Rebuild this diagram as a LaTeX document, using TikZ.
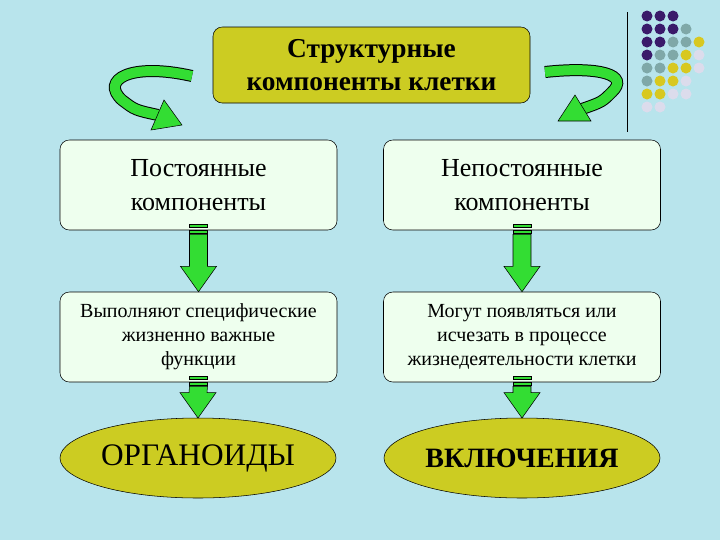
\documentclass[tikz,border=0pt]{standalone}
\usepackage{fontspec}
\setmainfont{Liberation Serif}
\usetikzlibrary{shapes.geometric}
\definecolor{bg}{HTML}{B8E4EC}
\definecolor{oliv}{HTML}{CCCC22}
\definecolor{pale}{HTML}{EEFFEE}
\definecolor{grn}{HTML}{33DD33}
\definecolor{P}{HTML}{3A1A6A}
\definecolor{G}{HTML}{7FA8A8}
\definecolor{Y}{HTML}{D8C820}
\definecolor{L}{HTML}{DCDCEC}
\colorlet{N}{bg}
\begin{document}
\begin{tikzpicture}[x=0.75pt,y=-0.75pt,
 box/.style={draw=black,fill=pale,rounded corners=7pt,minimum width=207.75pt,minimum height=67.5pt,align=center,inner sep=2pt},
 ell/.style={draw=black,fill=oliv,inner sep=0pt,text width=150pt,align=center,minimum height=60pt},
 band/.style={line width=9pt,draw=black},
 bandin/.style={line width=7.5pt,draw=grn},
 head/.style={draw=black,fill=grn,line join=miter}]
\fill[bg] (0,0) rectangle (720,540);
\useasboundingbox (0,0) rectangle (720,540);
% top box
\node[draw=black,fill=oliv,rounded corners=7pt,minimum width=237.75pt,minimum height=57pt,align=center,font=\fontsize{20.5}{25}\selectfont\bfseries] (top) at (371.5,65) {Структурные\\компоненты клетки};
\node[box,font=\fontsize{19.5}{25}\selectfont] (b1) at (198.5,185) {Постоянные\\компоненты};
\node[box,font=\fontsize{19.5}{25}\selectfont] (b2) at (522,185) {Непостоянные\\компоненты};
\node[box,font=\fontsize{15}{18}\selectfont] (c1) at (198.5,337) {Выполняют специфические\\жизненно важные\\функции};
\node[box,font=\fontsize{15}{18}\selectfont] (c2) at (522,337) {Могут появляться или\\исчезать в процессе\\жизнедеятельности клетки};
\draw[draw=black,fill=oliv] (198,458) ellipse (103.5pt and 30pt);
\draw[draw=black,fill=oliv] (522,458) ellipse (103.5pt and 30pt);
\node[font=\fontsize{23.5}{26}\selectfont] (e1) at (198,458) {ОРГАНОИДЫ};
\node[font=\fontsize{21}{24}\selectfont\bfseries] (e2) at (522,458) {ВКЛЮЧЕНИЯ};
% curved arrows
\draw[band] (192,76) .. controls (130,62) and (100,80) .. (122,100) .. controls (135,110) .. (158,115);
\draw[bandin] (192,76) .. controls (130,62) and (100,80) .. (122,100) .. controls (135,110) .. (158,115);
\draw[head] (151,130) -- (182,125) -- (164,100) -- cycle;
\draw[band] (545,72) .. controls (600,66) and (630,75) .. (612,92) .. controls (602,102) .. (582,109);
\draw[bandin] (545,72) .. controls (600,66) and (630,75) .. (612,92) .. controls (602,102) .. (582,109);
\draw[head] (591,121) -- (558,121) -- (575,95) -- cycle;
% down arrows
\path (198,418) coordinate (e1n) (522,418) coordinate (e2n);
\foreach \n/\m in {b1/c1.north,b2/c2.north,c1/e1n,c2/e2n}{
 \path (\n.south) coordinate (s) (\m) coordinate (t);
 \begin{scope}[shift={(s)}]
  \draw[fill=grn] (-9,-6) rectangle (9,-3);
  \draw[fill=grn] (-9,0) rectangle (9,3);
 \end{scope}
 \draw[head] ([xshift=-6.75pt,yshift=-3pt]s) -- ([xshift=-6.75pt,yshift=19pt]t) -- ([xshift=-13.5pt,yshift=19pt]t) -- (t) -- ([xshift=13.5pt,yshift=19pt]t) -- ([xshift=6.75pt,yshift=19pt]t) -- ([xshift=6.75pt,yshift=-3pt]s) -- cycle;
}
% decoration
\draw[line width=0.6pt] (627,12) -- (627,132);
\foreach \r/\row in {0/{P,P,P,N,N},1/{P,P,P,G,N},2/{P,P,G,G,Y},3/{P,G,G,Y,L},4/{G,G,Y,Y,L},5/{G,Y,Y,L,N},6/{Y,Y,L,L,N},7/{L,L,N,N,N}}{
 \foreach \c [count=\i from 0] in \row {
  \fill[\c] (647+13*\i,16+13*\r) circle (5.5);
 }
}
\end{tikzpicture}
\end{document}
